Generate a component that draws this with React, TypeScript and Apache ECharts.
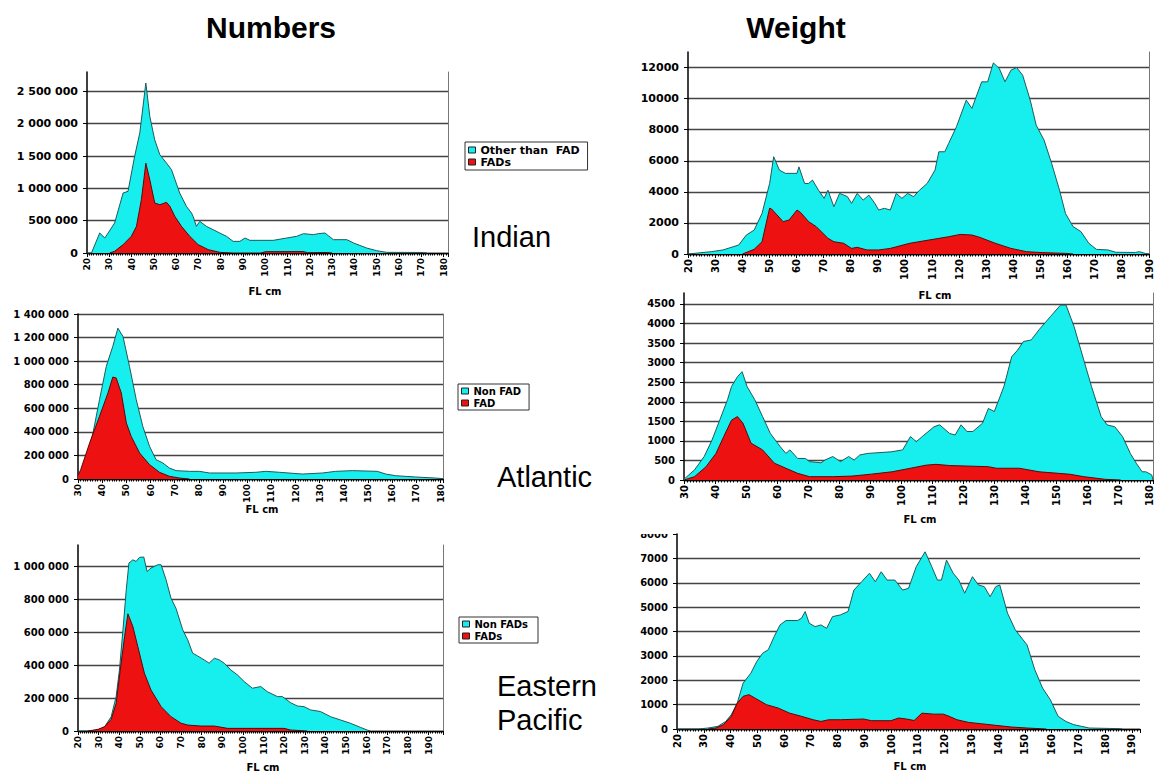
import React, { useEffect, useRef } from 'react';
import * as echarts from 'echarts';

// Data: [fork length (cm), value] pairs.
// The cyan "non-FAD" areas are stacked on top of the red FAD areas in the
// original, so their values are the height of the cyan outline (cumulative).

const indianNumbersNonFad: [number, number][] = [[20,0],[22,0],[25.7,309000],[28,232000],[32.4,464000],[36.2,928000],[38.4,954000],[41.4,1500000],[43.7,1860000],[46.4,2630000],[48.2,2110000],[50.4,1750000],[52.7,1520000],[55.7,1390000],[57.9,1290000],[61.6,928000],[64.6,722000],[66.9,619000],[67.6,567000],[69.1,412000],[70.6,490000],[73.6,412000],[76.6,361000],[79.6,309000],[82.6,258000],[85.6,180000],[88.6,180000],[90.9,232000],[93.1,196000],[103.6,196000],[109.6,232000],[114.1,258000],[117.1,299000],[121.6,284000],[123.8,299000],[126.8,309000],[128.3,268000],[130.6,206000],[136.6,206000],[139.6,155000],[145.5,77000],[150,36000],[154.5,10000],[171,8000],[172.5,0]];
const indianNumbersFad: [number, number][] = [[30.2,0],[32.4,26000],[36.2,129000],[39.9,258000],[42.2,412000],[44.4,825000],[45.5,1130000],[46.4,1390000],[48.2,1130000],[50.4,773000],[52.7,747000],[55.7,784000],[57.2,722000],[59.4,567000],[62.4,412000],[66.1,258000],[69.9,129000],[74.4,52000],[79.6,10000],[85.6,0],[98,0],[100,20000],[117,22000],[119,5000],[128,8000],[130,0]];

const indianWeightNonFad: [number, number][] = [[20,0],[28.6,150],[32.9,260],[38.7,580],[41.5,1220],[44.4,1540],[47.3,2610],[50.1,4540],[51.6,6260],[53.7,5400],[55.9,5190],[60.2,5190],[60.9,5610],[63,4540],[64.5,4540],[65.9,4760],[68.1,4110],[70.2,3580],[71.6,4110],[73.8,3040],[75.9,3900],[78.8,3690],[80.3,3260],[82.4,3900],[84.6,3470],[86.7,3790],[88.9,3260],[90.3,2830],[92.4,2940],[94.6,2830],[96.8,3900],[98.9,3580],[101,3900],[103.2,3690],[105.4,4110],[108.2,4540],[111.1,5400],[112.5,6580],[114.7,6580],[116.1,7110],[119,8190],[122.6,9900],[124.7,9370],[128.3,11080],[130.5,11080],[132.6,12300],[134.8,11940],[136.9,11080],[139.1,11830],[141.2,12000],[143.4,11510],[146.2,9900],[148.4,8290],[151.3,7330],[154.1,5830],[157,4110],[159.2,2610],[162,1760],[164.9,1440],[167.8,690],[170.6,300],[174.9,260],[177.8,110],[185,100],[186.4,150],[188.6,40],[190,0]];
const indianWeightFad: [number, number][] = [[40.1,0],[44.4,300],[47.3,790],[50.1,2950],[50.8,2900],[55.1,2080],[57.3,2190],[60.2,2830],[61.6,2660],[64.5,2080],[67.3,1760],[71.6,1010],[73.8,790],[77.4,690],[80.3,360],[82.4,430],[86,260],[90.3,260],[94.6,360],[101.8,690],[108.9,900],[116.1,1110],[120.4,1260],[124.7,1220],[127.6,1070],[133.3,690],[139.1,360],[144.8,150],[150.6,90],[159.2,40],[162,0]];

const atlanticNumbersNonFad: [number, number][] = [[30,40000],[31.1,51000],[33.4,164000],[36.2,390000],[38.9,673000],[41.7,956000],[44.4,1126000],[46.5,1280000],[48.6,1210000],[51.3,956000],[54.1,673000],[56.8,447000],[59.6,277000],[62.3,164000],[65.1,136000],[67.8,93000],[70.6,71000],[76.1,65000],[80.2,65000],[84.4,51000],[95.4,51000],[103.6,57000],[107.7,65000],[113.3,57000],[122.9,42000],[131.1,51000],[136.6,65000],[143.5,71000],[153.8,65000],[157.3,42000],[161.4,28000],[169.7,17000],[177.9,8000],[181,3000]];
const atlanticNumbersFad: [number, number][] = [[30,30000],[31.1,79000],[34.8,305000],[38.9,532000],[42.4,730000],[44.4,865000],[45.8,857000],[47.9,730000],[50,475000],[52,362000],[55.5,220000],[59.6,122000],[63.7,57000],[67.8,23000],[72,8000],[76.1,0]];

const atlanticWeightNonFad: [number, number][] = [[30,20],[33.4,260],[36.5,600],[39,1020],[41.5,1530],[44,2050],[45.3,2390],[47.2,2640],[48.7,2770],[50.3,2390],[52.8,2050],[55.3,1620],[57.8,1190],[61,850],[62.8,680],[64.1,770],[66.6,550],[69.1,550],[70.4,470],[74.1,440],[75.4,510],[77.9,600],[80.4,470],[83,600],[84.8,510],[86.6,640],[89.2,680],[96.7,720],[100.4,770],[102.9,1110],[104.8,980],[106.7,1110],[110.5,1360],[112.3,1410],[115.5,1190],[117.3,1150],[119.2,1410],[121.1,1240],[123,1240],[126.1,1450],[128,1830],[129.9,1750],[133,2390],[135.5,3150],[137.4,3320],[139.3,3540],[141.8,3580],[144.3,3840],[148,4180],[151.2,4470],[153,4470],[155.6,3920],[158.7,3070],[161.2,2390],[164.3,1620],[166.2,1410],[168.7,1360],[171.2,1110],[173.7,680],[175.6,430],[177.5,210],[178.7,210],[180.6,130],[181,0]];
const atlanticWeightFad: [number, number][] = [[30,0],[33.4,85],[37.1,340],[40.3,680],[42.8,1110],[45.3,1530],[47.2,1620],[49,1450],[51.6,940],[55.3,770],[59.1,430],[62.8,300],[66.6,170],[70.4,85],[77.9,85],[84.1,100],[90.4,150],[97,210],[102.9,300],[108,380],[111.1,400],[115.5,370],[128,340],[130.5,300],[138,300],[144.3,210],[150.6,170],[154.4,145],[158.7,85],[165.6,17],[170.6,0]];

const epNumbersNonFad: [number, number][] = [[20,0],[27,0],[29.7,6000],[32.9,26000],[36.1,87000],[38.5,209000],[40.1,371000],[41.8,614000],[43.4,858000],[44.7,1020000],[46.6,1040000],[48.2,1030000],[49.8,1055000],[51.9,1057000],[53.5,969000],[55.4,990000],[58.7,1010000],[60.3,1010000],[62.7,919000],[65.1,807000],[67.5,746000],[70.8,614000],[73.2,554000],[75.6,473000],[78,456000],[81.2,432000],[83.6,412000],[86.1,442000],[88.5,432000],[90.9,412000],[94.1,371000],[97.3,341000],[100.6,300000],[104.6,260000],[108.6,270000],[111.8,239000],[116.7,209000],[119.1,209000],[123.1,172000],[126.3,152000],[129.6,148000],[132.8,128000],[137.6,118000],[142.5,87000],[147.3,67000],[152.1,47000],[157,22000],[160.2,6000],[161.8,0]];
const epNumbersFad: [number, number][] = [[24.8,0],[29.7,10000],[32.9,26000],[36.1,71000],[38.5,168000],[40.9,412000],[42.6,574000],[44.2,712000],[46.6,635000],[49,513000],[52.2,351000],[55.4,249000],[60.3,148000],[65.1,87000],[70,47000],[73.2,36000],[79.6,30000],[86.1,30000],[92.5,16000],[105.4,16000],[119.9,16000],[123.1,6000],[131.2,0]];

const epWeightNonFad: [number, number][] = [[20,0],[28,0],[31.6,40],[35.3,110],[38.2,310],[40.3,590],[42.5,1060],[44.7,1880],[47.6,2290],[49.8,2770],[52,3110],[54.1,3250],[56.3,3790],[58.5,4270],[60.7,4450],[65,4450],[66.5,4540],[67.9,4820],[69.4,4340],[71.6,4200],[73.8,4270],[75.9,4130],[78.1,4610],[81,4680],[83.9,4820],[86.1,5700],[89,6040],[91.9,6390],[94.1,6040],[96.3,6450],[98.5,6110],[101.4,6110],[104.3,5700],[106.5,5770],[109.4,6660],[112.7,7270],[115.2,6660],[117.3,6110],[118.8,6110],[120.7,6930],[123.2,6390],[125.3,6110],[127.5,5570],[130.4,6250],[132.6,5910],[134.8,5840],[137,5430],[139.1,5840],[140.6,5910],[143.5,4750],[146.4,4070],[149.3,3660],[150.8,3450],[153.7,2430],[156.6,1680],[159.5,1200],[162.4,520],[165.3,310],[168.2,180],[171.1,110],[174,40],[185.6,14],[186.4,0]];
const epWeightFad: [number, number][] = [[31.6,0],[34.5,40],[37.4,180],[40.3,520],[42.5,1060],[44.7,1340],[46.9,1410],[49.1,1270],[53.4,1000],[57.8,860],[62.1,650],[66.5,520],[70.9,380],[73.8,310],[76.7,380],[81,380],[89.7,410],[92.7,340],[99.9,340],[102.8,450],[105.7,410],[108.6,350],[111.5,650],[115.9,610],[119.5,610],[121.7,520],[124.6,380],[129,270],[133.3,220],[139.1,150],[145,80],[150.8,40],[158,0]];

const columnTitles = ['Numbers', 'Weight'];
const oceanLabels = ['Indian', 'Atlantic', 'Eastern', 'Pacific'];
const axisTitle = 'FL cm';
const legendNames = [
  ['Other than  FAD', 'FADs'],
  ['Non FAD', 'FAD'],
  ['Non FADs', 'FADs'],
];

const CYAN = '#17eeee';
const CYAN_EDGE = '#1f5a5a';
const RED = '#ee1111';
const RED_EDGE = '#5a0808';
const TITLE_FONT = '"Liberation Sans", Arial, sans-serif';
const LABEL_FONT = '"DejaVu Sans", sans-serif';

type Panel = {
  grid: { left: number; top: number; width: number; height: number };
  xMin: number; xMax: number; showXMax: boolean;
  yMax: number; yInterval: number; showYMax: boolean; showYMaxLine: boolean;
  spaced: boolean; yFont: number; xFont: number; rightBorder: boolean;
  nonFad: [number, number][]; fad: [number, number][];
  names: string[];
};

const panels: Panel[] = [
  { grid: { left: 87, top: 72, width: 361, height: 181 }, xMin: 20, xMax: 182, showXMax: false,
    yMax: 2800000, yInterval: 500000, showYMax: false, showYMaxLine: false, spaced: true, yFont: 11, xFont: 9,
    rightBorder: true, nonFad: indianNumbersNonFad, fad: indianNumbersFad, names: legendNames[0] },
  { grid: { left: 688, top: 52, width: 461, height: 202 }, xMin: 20, xMax: 190, showXMax: true,
    yMax: 13000, yInterval: 2000, showYMax: false, showYMaxLine: false, spaced: false, yFont: 11, xFont: 10,
    rightBorder: true, nonFad: indianWeightNonFad, fad: indianWeightFad, names: ['Other than FAD (weight)', 'FADs (weight)'] },
  { grid: { left: 78, top: 314, width: 365, height: 165 }, xMin: 30, xMax: 181, showXMax: false,
    yMax: 1400000, yInterval: 200000, showYMax: true, showYMaxLine: true, spaced: true, yFont: 10, xFont: 9,
    rightBorder: true, nonFad: atlanticNumbersNonFad, fad: atlanticNumbersFad, names: legendNames[1] },
  { grid: { left: 684, top: 293, width: 469, height: 187 }, xMin: 30, xMax: 181, showXMax: false,
    yMax: 4780, yInterval: 500, showYMax: false, showYMaxLine: false, spaced: false, yFont: 10, xFont: 10,
    rightBorder: true, nonFad: atlanticWeightNonFad, fad: atlanticWeightFad, names: ['Non FAD (weight)', 'FAD (weight)'] },
  { grid: { left: 78, top: 545, width: 365, height: 186 }, xMin: 20, xMax: 197, showXMax: false,
    yMax: 1130000, yInterval: 200000, showYMax: false, showYMaxLine: false, spaced: true, yFont: 10, xFont: 9,
    rightBorder: true, nonFad: epNumbersNonFad, fad: epNumbersFad, names: legendNames[2] },
  { grid: { left: 677, top: 534, width: 463, height: 195 }, xMin: 20, xMax: 193, showXMax: false,
    yMax: 8000, yInterval: 1000, showYMax: true, showYMaxLine: false, spaced: false, yFont: 10, xFont: 10,
    rightBorder: false, nonFad: epWeightNonFad, fad: epWeightFad, names: ['Non FADs (weight)', 'FADs (weight)'] },
];

const spacedFmt = (v: number) => String(Math.round(v)).replace(/\B(?=(\d{3})+(?!\d))/g, ' ');

function buildOption() {
  const grid: any[] = [];
  const xAxis: any[] = [];
  const yAxis: any[] = [];
  const series: any[] = [];
  panels.forEach((p, i) => {
    grid.push({ ...p.grid, containLabel: false });
    xAxis.push({
      type: 'value', gridIndex: i, min: p.xMin, max: p.xMax, interval: 10,
      axisLine: { show: true, onZero: false, lineStyle: { color: '#000', width: 1.3 } },
      axisTick: { show: true, length: 4, lineStyle: { color: '#000', width: 1 } },
      minorTick: { show: true, splitNumber: 10, length: 2.5, lineStyle: { color: '#000', width: 1 } },
      splitLine: { show: false },
      axisLabel: {
        rotate: 90, margin: 5, color: '#000', fontFamily: LABEL_FONT, fontWeight: 'bold',
        fontSize: p.xFont, showMaxLabel: p.showXMax, showMinLabel: true,
      },
    });
    yAxis.push({
      type: 'value', gridIndex: i, min: 0, max: p.yMax, interval: p.yInterval,
      axisLine: { show: true, lineStyle: { color: '#000', width: 1.5 } },
      axisTick: { show: true, length: 4, lineStyle: { color: '#000' } },
      splitLine: { show: true, showMaxLine: p.showYMaxLine, lineStyle: { color: '#444', width: 1.4 } },
      axisLabel: {
        margin: 9, color: '#000', fontFamily: LABEL_FONT, fontWeight: 'bold', fontSize: p.yFont,
        showMaxLabel: p.showYMax,
        formatter: (v: number) => (p.spaced ? spacedFmt(v) : String(v)),
      },
    });
    yAxis.push({
      type: 'value', gridIndex: i, position: 'right', min: 0, max: p.yMax,
      axisLine: { show: p.rightBorder, lineStyle: { color: '#777', width: 1 } },
      axisTick: { show: false }, axisLabel: { show: false }, splitLine: { show: false },
    });
    series.push({
      type: 'line', name: p.names[0], xAxisIndex: i, yAxisIndex: 2 * i, data: p.nonFad,
      showSymbol: false, symbol: 'none', z: 2,
      lineStyle: { color: CYAN_EDGE, width: 1 },
      itemStyle: { color: CYAN },
      areaStyle: { color: CYAN, opacity: 1 },
    });
    series.push({
      type: 'line', name: p.names[1], xAxisIndex: i, yAxisIndex: 2 * i, data: p.fad,
      showSymbol: false, symbol: 'none', z: 3,
      lineStyle: { color: RED_EDGE, width: 1 },
      itemStyle: { color: RED },
      areaStyle: { color: RED, opacity: 1 },
    });
  });

  const legendBase = {
    orient: 'vertical', icon: 'rect', itemWidth: 7, itemHeight: 6, itemGap: 0,
    borderColor: '#333', borderWidth: 1, backgroundColor: '#fff',
    itemStyle: { borderColor: '#222', borderWidth: 1 },
    selectedMode: false,
  };
  const legend = [
    { ...legendBase, left: 465, top: 142, padding: [2, 8, 2, 3], data: legendNames[0],
      textStyle: { fontFamily: LABEL_FONT, fontWeight: 'bold', fontSize: 11, lineHeight: 12, color: '#000' } },
    { ...legendBase, left: 458, top: 384, padding: [1, 8, 1, 3], data: legendNames[1],
      textStyle: { fontFamily: LABEL_FONT, fontWeight: 'bold', fontSize: 10, lineHeight: 12, color: '#000' } },
    { ...legendBase, left: 459, top: 617, padding: [1, 10, 1, 3], data: legendNames[2],
      textStyle: { fontFamily: LABEL_FONT, fontWeight: 'bold', fontSize: 10, lineHeight: 12, color: '#000' } },
  ];

  const txt = (text: string, x: number, y: number, size: number, weight: string, align: string, family = TITLE_FONT) => ({
    type: 'text', x, y, z: 50,
    style: { text, fontSize: size, fontWeight: weight, fontFamily: family, fill: '#000', align, verticalAlign: 'middle' },
  });

  const graphic = [
    txt(columnTitles[0], 271, 27, 30, 'bold', 'center'),
    txt(columnTitles[1], 796, 27, 30, 'bold', 'center'),
    txt(oceanLabels[0], 472, 237, 29, 'normal', 'left'),
    txt(oceanLabels[1], 497, 477, 29, 'normal', 'left'),
    txt(oceanLabels[2], 497, 686, 29, 'normal', 'left'),
    txt(oceanLabels[3], 497, 720, 29, 'normal', 'left'),
    txt(axisTitle, 265, 291, 10, 'bold', 'center', LABEL_FONT),
    txt(axisTitle, 935, 295, 10, 'bold', 'center', LABEL_FONT),
    txt(axisTitle, 262, 509, 10, 'bold', 'center', LABEL_FONT),
    txt(axisTitle, 920, 519, 10, 'bold', 'center', LABEL_FONT),
    txt(axisTitle, 263, 767, 10, 'bold', 'center', LABEL_FONT),
    txt(axisTitle, 910, 766, 10, 'bold', 'center', LABEL_FONT),
    { type: 'rect', z: 60, shape: { x: 620, y: 522, width: 52, height: 12 }, style: { fill: '#fff' } },
  ];

  return {
    animation: false,
    backgroundColor: '#fff',
    grid, xAxis, yAxis, series, legend, graphic,
  };
}

export default function App() {
  const ref = useRef<HTMLDivElement>(null);
  useEffect(() => {
    if (!ref.current) return;
    const chart = echarts.init(ref.current, undefined, { renderer: 'svg' });
    chart.setOption(buildOption() as any);
    return () => chart.dispose();
  }, []);
  return <div ref={ref} style={{ position: 'absolute', left: 0, top: 0, width: 1170, height: 773 }} />;
}
